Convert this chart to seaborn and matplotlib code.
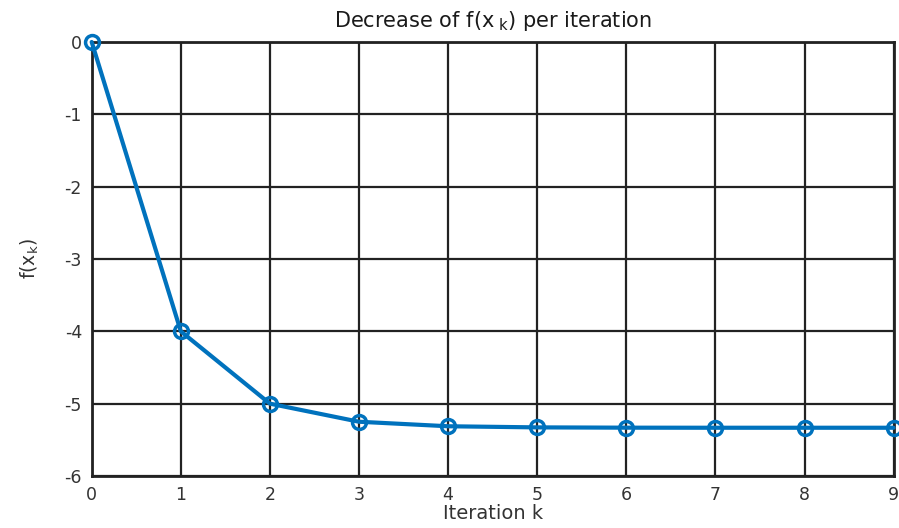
import pandas as pd
import seaborn as sns
from matplotlib import pyplot as plt

iterations = [0, 1, 2, 3, 4, 5, 6, 7, 8, 9]
f_values = [0.0, -4.0, -5.0, -5.25, -5.3125, -5.328, -5.332, -5.333, -5.333, -5.333]
x_ticks = [0, 1, 2, 3, 4, 5, 6, 7, 8, 9]
y_ticks = [0, -1, -2, -3, -4, -5, -6]

sns.set_style('white')
plt.rcParams['font.family'] = ['DejaVu Sans']
plt.rcParams['mathtext.fontset'] = 'dejavusans'
plt.rcParams['axes.unicode_minus'] = False

df = pd.DataFrame({'k': iterations, 'f': f_values})

fig = plt.figure(figsize=(8.99, 5.28), dpi=100)
ax = fig.add_axes([0.102, 0.0985, 0.892, 0.822])

sns.lineplot(x='k', y='f', data=df, ax=ax, color='#0072BD', linewidth=3,
             marker='o', markersize=10, markerfacecolor='none',
             markeredgecolor='#0072BD', markeredgewidth=2.5, clip_on=False, zorder=5)

ax.set_xlim(0, 9)
ax.set_ylim(-6, 0)
ax.set_xticks(x_ticks)
ax.set_yticks(y_ticks)
ax.grid(True, color='#222222', linewidth=1.6, alpha=1)
ax.set_axisbelow(True)
for s in ax.spines.values():
    s.set_color('#222222')
    s.set_linewidth(2)
ax.tick_params(length=0, labelsize=12.5, colors='#333333', pad=7)

ax.set_title('Decrease of f(x$_{\\ \\mathregular{k}}$) per iteration', fontsize=15,
             color='#1a1a1a', pad=11)
ax.set_xlabel('Iteration k', fontsize=14, color='#333333', labelpad=0)
ax.set_ylabel('f(x$_\\mathregular{k}$)', fontsize=13.5, color='#333333', labelpad=17)

plt.savefig('out.png', dpi=100)
